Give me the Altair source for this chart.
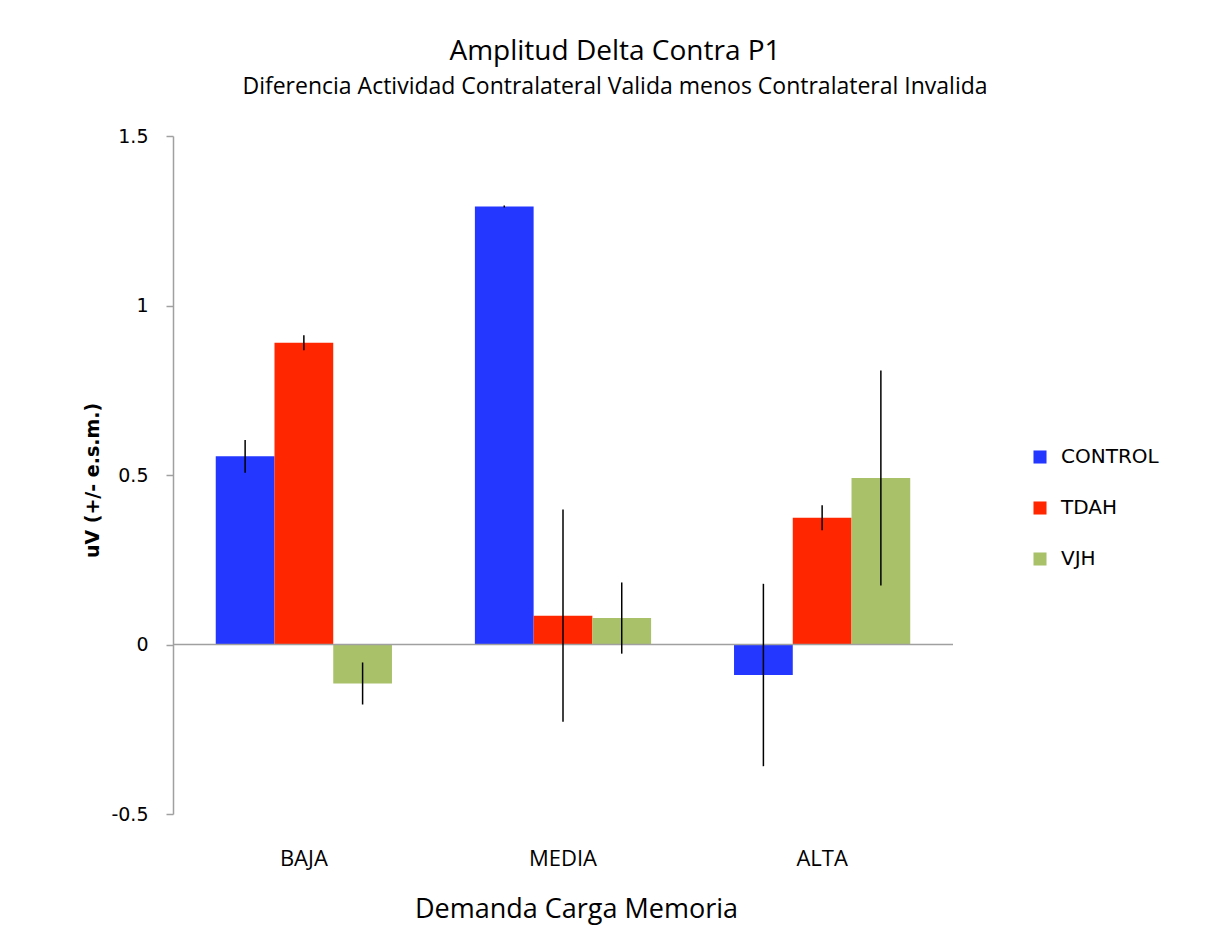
import altair as alt
import pandas as pd

categories = ["BAJA", "MEDIA", "ALTA"]
groups = ["CONTROL", "TDAH", "VJH"]
control = [0.555, 1.292, -0.090]
tdah = [0.890, 0.085, 0.374]
vjh = [-0.115, 0.078, 0.491]
control_err = [0.048, 0.003, 0.269]
tdah_err = [0.022, 0.313, 0.037]
vjh_err = [0.062, 0.105, 0.317]
colors = ["#2337FF", "#FF2600", "#A9C26A"]
y_ticks = [-0.5, 0, 0.5, 1, 1.5]

rows = []
for g, vals, errs in [("CONTROL", control, control_err), ("TDAH", tdah, tdah_err), ("VJH", vjh, vjh_err)]:
    for c, v, e in zip(categories, vals, errs):
        rows.append({"Demanda": c, "Grupo": g, "value": v, "lo": v - e, "hi": v + e})
df = pd.DataFrame(rows)

TITLE_FONT = "Open Sans"
TICK_FONT = "DejaVu Sans"

x_enc = alt.X(
    "Demanda:N",
    sort=categories,
    scale=alt.Scale(paddingInner=0.32, paddingOuter=0.165),
    axis=alt.Axis(
        title="Demanda Carga Memoria",
        domain=False,
        ticks=False,
        labelAngle=0,
        labelPadding=34,
        labelFont=TITLE_FONT,
        labelFontSize=22,
        labelColor="#000",
        titleFont=TITLE_FONT,
        titleFontSize=27,
        titleFontWeight="normal",
        titleColor="#000",
        titlePadding=27,
        titleX=403,
    ),
)
xoff = alt.XOffset("Grupo:N", sort=groups, scale=alt.Scale(paddingInner=0, paddingOuter=0))
y_scale = alt.Scale(domain=[-0.5, 1.5], nice=False, zero=False)
y_enc = alt.Y(
    "value:Q",
    scale=y_scale,
    axis=alt.Axis(
        values=y_ticks,
        grid=False,
        labelExpr="'' + datum.value",
        domainColor="#A0A0A0",
        domainWidth=1.5,
        tickColor="#A0A0A0",
        tickWidth=1.5,
        tickSize=7,
        labelPadding=18,
        labelFont=TICK_FONT,
        labelFontSize=19,
        labelColor="#000",
        title="uV (+/- e.s.m.)",
        titleFont=TICK_FONT,
        titleFontSize=19,
        titleFontWeight="bold",
        titleColor="#000",
        titlePadding=8,
        titleY=344,
    ),
)

base = alt.Chart(df)
bars = base.mark_bar().encode(
    x=x_enc,
    xOffset=xoff,
    y=y_enc,
    color=alt.Color(
        "Grupo:N",
        scale=alt.Scale(domain=groups, range=colors),
        legend=alt.Legend(
            title=None,
            orient="none",
            legendX=857,
            legendY=311,
            symbolType="square",
            symbolSize=170,
            symbolStrokeWidth=0,
            symbolOpacity=1,
            labelFont=TICK_FONT,
            labelFontSize=20,
            labelColor="#000",
            labelOffset=11,
            rowPadding=31,
        ),
    ),
)
zero = alt.Chart(pd.DataFrame({"z": [0]})).mark_rule(color="#A0A0A0", strokeWidth=1.5).encode(
    y=alt.Y("z:Q", scale=y_scale)
)
errors = base.mark_rule(color="black", strokeWidth=1.5).encode(
    x=x_enc, xOffset=xoff, y=alt.Y("lo:Q", scale=y_scale), y2="hi:Q"
)

chart = (
    alt.layer(bars, zero, errors)
    .properties(
        width=780,
        height=678,
        padding={"left": 75, "top": 30, "right": 5, "bottom": 5},
        title=alt.TitleParams(
            text="Amplitud  Delta Contra P1",
            subtitle="Diferencia Actividad Contralateral Valida menos Contralateral Invalida",
            font=TITLE_FONT,
            fontSize=28,
            fontWeight="normal",
            color="#000",
            subtitleFont=TITLE_FONT,
            subtitleFontSize=23,
            subtitleColor="#000",
            subtitlePadding=10,
            anchor="middle",
            frame="group",
            dx=52,
            offset=28,
        ),
    )
    .configure(background="white")
    .configure_view(stroke="transparent", strokeWidth=0)
)

chart.save("out.html", embed_options={"renderer": "svg", "actions": False})
